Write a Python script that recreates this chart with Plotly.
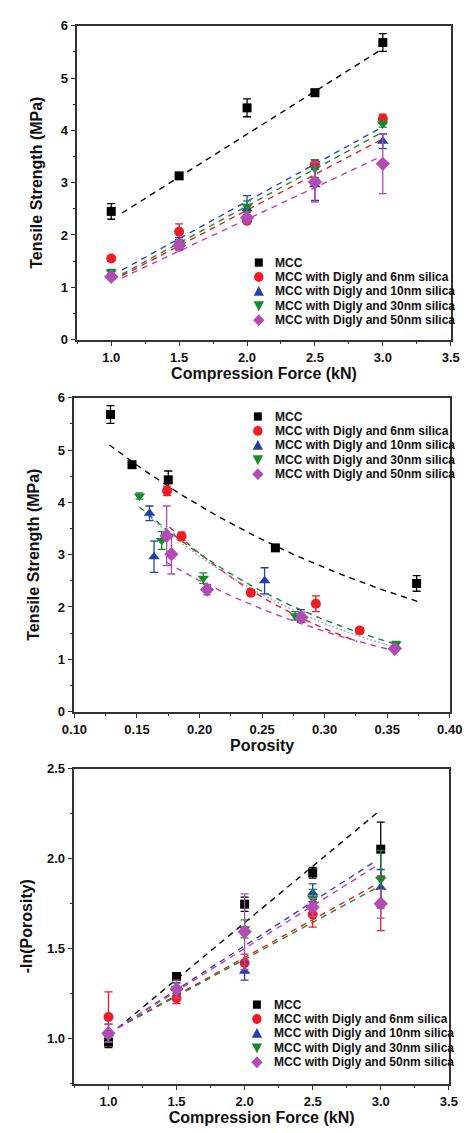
import numpy as np
import plotly.graph_objects as go

# ---------------- data ----------------
force = [1.0, 1.5, 2.0, 2.5, 3.0]  # compression force (kN)

series_names = [
    "MCC",
    "MCC with Digly and 6nm silica",
    "MCC with Digly and 10nm silica",
    "MCC with Digly and 30nm silica",
    "MCC with Digly and 50nm silica",
]

# tensile strength (MPa) and its error at each compression force
ts_mcc = [2.45, 3.13, 4.43, 4.72, 5.68]
ts_6nm = [1.55, 2.06, 2.27, 3.35, 4.22]
ts_10nm = [1.25, 1.84, 2.50, 2.96, 3.79]
ts_30nm = [1.29, 1.83, 2.55, 3.27, 4.12]
ts_50nm = [1.20, 1.80, 2.33, 3.01, 3.36]

ts_err_mcc = [0.15, 0.05, 0.17, 0.05, 0.17]
ts_err_6nm = [0.05, 0.15, 0.05, 0.08, 0.09]
ts_err_10nm = [0.05, 0.11, 0.25, 0.30, 0.14]
ts_err_30nm = [0.05, 0.08, 0.10, 0.17, 0.06]
ts_err_50nm = [0.05, 0.10, 0.10, 0.38, 0.57]

# porosity at each compression force
por_mcc = [0.3735, 0.2606, 0.175, 0.146, 0.1288]
por_6nm = [0.328, 0.293, 0.241, 0.1856, 0.174]
por_10nm = [0.357, 0.281, 0.252, 0.1636, 0.160]
por_30nm = [0.357, 0.2765, 0.203, 0.1697, 0.152]
por_50nm = [0.356, 0.2815, 0.206, 0.1775, 0.1737]

# -ln(porosity) and its error at each compression force
nlp_mcc = [0.98, 1.345, 1.747, 1.922, 2.053]
nlp_6nm = [1.12, 1.225, 1.42, 1.69, 1.75]
nlp_10nm = [1.03, 1.28, 1.375, 1.81, 1.84]
nlp_30nm = [1.01, 1.28, 1.61, 1.78, 1.885]
nlp_50nm = [1.03, 1.275, 1.594, 1.73, 1.75]

nlp_err_mcc = [0.03, 0.02, 0.04, 0.03, 0.15]
nlp_err_6nm = [0.14, 0.03, 0.05, 0.07, 0.15]
nlp_err_10nm = [0.05, 0.03, 0.05, 0.05, 0.10]
nlp_err_30nm = [0.03, 0.03, 0.05, 0.05, 0.16]
nlp_err_50nm = [0.05, 0.05, 0.21, 0.05, 0.08]

# trend models
# tabletability: TS = c0 + c1 * F
tab_fit = [(0.652, 1.637), (-0.252, 1.363), (-0.210, 1.426), (-0.279, 1.416), (-0.133, 1.216)]
tab_fit_range = (1.08, 2.98)
# compactibility: TS = a * exp(-b * porosity), drawn over [pmin, pmax]
comp_fit = [(8.07, 3.59), (11.0, 6.46), (9.2, 5.66), (8.93, 5.43), (6.70, 4.92)]
comp_fit_range = [(0.128, 0.375), (0.176, 0.326), (0.159, 0.357), (0.152, 0.355), (0.174, 0.357)]
# Heckel-type: -ln(P) = k0 + k1 * F
heckel_fit = [(0.388, 0.628), (0.611, 0.420), (0.536, 0.490), (0.621, 0.410), (0.553, 0.474)]
heckel_fit_range = (1.07, 2.97)

ts = [ts_mcc, ts_6nm, ts_10nm, ts_30nm, ts_50nm]
ts_err = [ts_err_mcc, ts_err_6nm, ts_err_10nm, ts_err_30nm, ts_err_50nm]
por = [por_mcc, por_6nm, por_10nm, por_30nm, por_50nm]
nlp = [nlp_mcc, nlp_6nm, nlp_10nm, nlp_30nm, nlp_50nm]
nlp_err = [nlp_err_mcc, nlp_err_6nm, nlp_err_10nm, nlp_err_30nm, nlp_err_50nm]

# ---------------- styles ----------------
colors = ["#000000", "#ee1d25", "#2140a8", "#178a2e", "#b24cb4"]
fit_colors = ["#000000", "#ee1d25", "#2e46c0", "#1c8a2c", "#c040c0"]
symbols = ["square", "circle", "triangle-up", "triangle-down", "diamond"]
sizes = [9, 10, 10, 10, 11]

FONT = "Arial, 'Liberation Sans', sans-serif"
TXT = "#111111"
W, H = 476, 1133

fig = go.Figure()


def add_panel(xref, yref, xdata, ydata, yerr, fits):
    # dashed trend lines first so markers sit on top
    for i, (fx, fy) in enumerate(fits):
        dash = "6px,5px"
        col = fit_colors[i]
        if xref == "x2" and i == 2:
            dash = "2px,2px"
            col = "#8fb0e0"
        fig.add_trace(go.Scatter(
            x=fx, y=fy, mode="lines", xaxis=xref, yaxis=yref, showlegend=False,
            line=dict(color=col, width=1.4, dash=dash), hoverinfo="skip"))
    for i in range(5):
        fig.add_trace(go.Scatter(
            x=xdata[i], y=ydata[i], mode="markers", xaxis=xref, yaxis=yref,
            name=series_names[i], showlegend=False,
            marker=dict(symbol=symbols[i], size=sizes[i], color=colors[i], line=dict(width=0)),
            error_y=dict(type="data", array=yerr[i], color=colors[i], thickness=1.3, width=4),
            cliponaxis=False))


# panel 1: tensile strength vs compression force
Fg = np.linspace(*tab_fit_range, 60)
fits1 = [(Fg, c0 + c1 * Fg) for c0, c1 in tab_fit]
add_panel("x", "y", [force] * 5, ts, ts_err, fits1)

# panel 2: tensile strength vs porosity
fits2 = []
for (a, b), (p0, p1) in zip(comp_fit, comp_fit_range):
    pg = np.linspace(p0, p1, 60)
    fits2.append((pg, a * np.exp(-b * pg)))
add_panel("x2", "y2", por, ts, ts_err, fits2)

# panel 3: -ln(porosity) vs compression force
Fh = np.linspace(*heckel_fit_range, 60)
fits3 = [(Fh, k0 + k1 * Fh) for k0, k1 in heckel_fit]
add_panel("x3", "y3", [force] * 5, nlp, nlp_err, fits3)


def px_x(v):
    return v / W


def px_y(v):
    return 1 - v / H


def axis(rng, dtick, mdtick, fmt, title, domain, anchor, standoff):
    return dict(
        range=rng, domain=domain, anchor=anchor, tick0=0, dtick=dtick, tickformat=fmt,
        showline=True, linecolor="#333333", linewidth=1.5, mirror=True,
        ticks="outside", ticklen=5, tickwidth=1.3, tickcolor="#333333",
        minor=dict(dtick=mdtick, ticks="outside", ticklen=3, tickwidth=1.1, tickcolor="#333333"),
        showgrid=False, zeroline=False, fixedrange=True,
        tickfont=dict(family=FONT, size=13, color=TXT, weight="bold"),
        title=dict(text=title, standoff=standoff,
                   font=dict(family=FONT, size=16, color=TXT, weight="bold")),
    )


# pixel frames of the three plot areas (left, right, top, bottom)
frames = [(68, 463, 19, 337), (65, 462, 396, 714), (65, 461, 772, 1091)]
doms = [([px_x(l), px_x(r)], [px_y(b), px_y(t)]) for l, r, t, b in frames]

layout = dict(
    width=W, height=H, margin=dict(l=0, r=0, t=0, b=0),
    paper_bgcolor="white", plot_bgcolor="white", showlegend=False,
    xaxis=axis([0.75, 3.5], 0.5, 0.25, ".1f", "Compression Force (kN)", doms[0][0], "y", 3),
    yaxis=axis([0, 6], 1, 0.5, "d", "Tensile Strength (MPa)", doms[0][1], "x", 14),
    xaxis2=axis([0.1, 0.4], 0.05, 0.025, ".2f", "Porosity", doms[1][0], "y2", 3),
    yaxis2=axis([0, 6], 1, 0.5, "d", "Tensile Strength (MPa)", doms[1][1], "x2", 14),
    xaxis3=axis([0.75, 3.5], 0.5, 0.25, ".1f", "Compression Force (kN)", doms[2][0], "y3", 3),
    yaxis3=axis([0.75, 2.5], 0.5, 0.25, ".1f", "-ln(Porosity)", doms[2][1], "x3", 10),
)


def legend_glyph(kind, cx, cy, color):
    """Legend key drawn as a paper-space shape centred on pixel (cx, cy)."""
    def pt(dx, dy):
        return f"{px_x(cx + dx):.5f},{px_y(cy + dy):.5f}"
    base = dict(type="path", xref="paper", yref="paper", fillcolor=color,
                line=dict(width=0), layer="above")
    if kind == "square":
        r = 4.2
        base["path"] = f"M{pt(-r, -r)} L{pt(r, -r)} L{pt(r, r)} L{pt(-r, r)} Z"
    elif kind == "circle":
        return dict(type="circle", xref="paper", yref="paper", fillcolor=color,
                    line=dict(width=0), layer="above",
                    x0=px_x(cx - 5), x1=px_x(cx + 5), y0=px_y(cy + 5), y1=px_y(cy - 5))
    elif kind == "triangle-up":
        base["path"] = f"M{pt(0, -5.5)} L{pt(5.5, 4.5)} L{pt(-5.5, 4.5)} Z"
    elif kind == "triangle-down":
        base["path"] = f"M{pt(0, 5.5)} L{pt(5.5, -4.5)} L{pt(-5.5, -4.5)} Z"
    else:
        r = 6
        base["path"] = f"M{pt(0, -r)} L{pt(r, 0)} L{pt(0, r)} L{pt(-r, 0)} Z"
    return base


# legends: key + label rows inside each panel
legend_pos = [(260, 275, 259), (259, 275, 415), (258, 274, 1011)]
row_step = 14.6
anns, shapes = [], []
for sx, tx, ty in legend_pos:
    for i, name in enumerate(series_names):
        cy = ty + i * row_step
        shapes.append(legend_glyph(symbols[i], sx, cy, colors[i]))
        anns.append(dict(x=px_x(tx), y=px_y(cy), xref="paper", yref="paper", text=name,
                         showarrow=False, xanchor="left", yanchor="middle", height=14,
                         font=dict(family=FONT, size=12, color=TXT, weight="bold")))
layout["annotations"] = anns
layout["shapes"] = shapes

fig.update_layout(**layout)
fig.write_html("out.html")
